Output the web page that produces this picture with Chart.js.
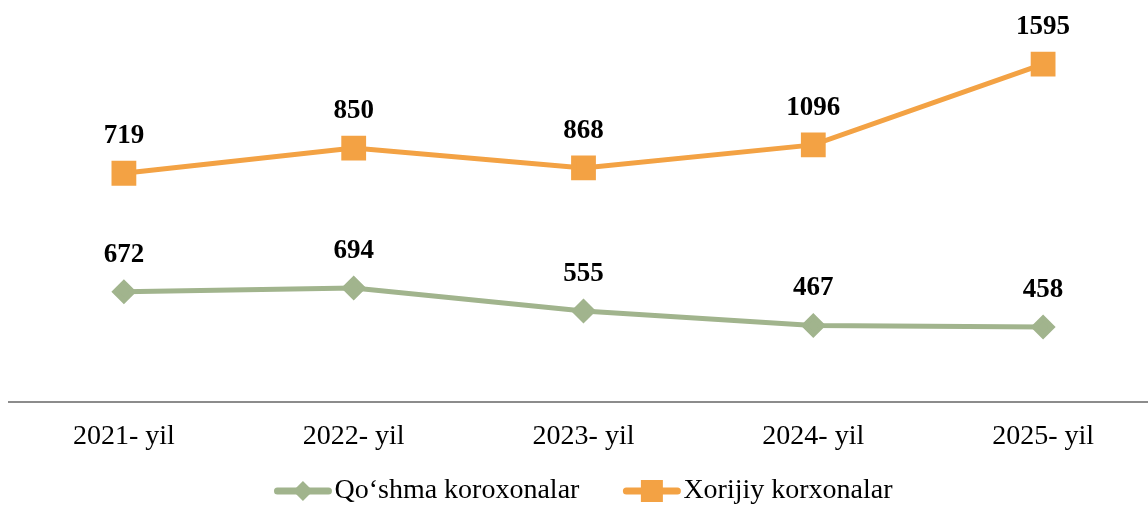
<!DOCTYPE html>
<html>
<head>
<meta charset="utf-8">
<script src="https://cdn.jsdelivr.net/npm/chart.js@4"></script>
<style>
  html, body { margin: 0; padding: 0; background: #fff; overflow: hidden; }
  #wrap { width: 1160px; height: 505px; }
</style>
</head>
<body>
<div id="wrap"><canvas id="chart" width="1160" height="505"></canvas></div>
<script>
const years = ['2021- yil', '2022- yil', '2023- yil', '2024- yil', '2025- yil'];
const jointValues = [672, 694, 555, 467, 458];
const foreignValues = [719, 850, 868, 1096, 1595];
const seriesNames = ['Qo\u2018shma koroxonalar', 'Xorijiy korxonalar'];

const greenColor = '#A1B48D';
const orangeColor = '#F3A244';
const fontFamily = '"Liberation Serif", "Times New Roman", serif';

// value labels above each point (raw value, not stacked total)
const valueLabels = {
    id: 'valueLabels',
    afterDatasetsDraw(chart) {
        const ctx = chart.ctx;
        ctx.save();
        ctx.font = 'bold 27px ' + fontFamily;
        ctx.fillStyle = '#000';
        ctx.textAlign = 'center';
        ctx.textBaseline = 'middle';
        chart.data.datasets.forEach((ds, i) => {
            const meta = chart.getDatasetMeta(i);
            meta.data.forEach((pt, j) => {
                ctx.fillText(String(ds.data[j]), pt.x, pt.y - 37);
            });
        });
        ctx.restore();
    }
};

// legend: line with marker, then series name
const lineLegend = {
    id: 'lineLegend',
    afterDraw(chart) {
        const ctx = chart.ctx;
        ctx.save();
        ctx.font = '28px ' + fontFamily;
        ctx.textBaseline = 'middle';
        const y = 491;
        const markW = 57;
        const gap = 3;
        const itemGap = 44;
        const items = chart.data.datasets.map(ds => ({
            ds: ds,
            w: markW + gap + ctx.measureText(ds.label).width
        }));
        const total = items.reduce((s, it) => s + it.w, 0) + itemGap * (items.length - 1);
        let x = (chart.chartArea.left + chart.chartArea.right - total) / 2;
        items.forEach(it => {
            const ds = it.ds;
            ctx.strokeStyle = ds.borderColor;
            ctx.lineWidth = 7;
            ctx.lineCap = 'round';
            ctx.beginPath();
            ctx.moveTo(x + 3, y);
            ctx.lineTo(x + markW - 3, y);
            ctx.stroke();
            ctx.fillStyle = ds.pointBackgroundColor;
            ctx.beginPath();
            const cx = x + markW / 2;
            if (ds.pointStyle === 'rectRot') {
                ctx.moveTo(cx, y - 10);
                ctx.lineTo(cx + 10, y);
                ctx.lineTo(cx, y + 10);
                ctx.lineTo(cx - 10, y);
                ctx.closePath();
            } else {
                ctx.rect(cx - 11, y - 11, 22, 22);
            }
            ctx.fill();
            ctx.fillStyle = '#000';
            ctx.textAlign = 'left';
            ctx.fillText(ds.label, x + markW + gap, y);
            x += it.w + itemGap;
        });
        ctx.restore();
    }
};

new Chart(document.getElementById('chart'), {
    type: 'line',
    data: {
        labels: years,
        datasets: [
            {
                label: seriesNames[0],
                data: jointValues,
                borderColor: greenColor,
                backgroundColor: greenColor,
                pointBackgroundColor: greenColor,
                pointBorderColor: greenColor,
                borderWidth: 5,
                pointStyle: 'rectRot',
                pointRadius: 9,
                tension: 0,
                fill: false
            },
            {
                label: seriesNames[1],
                data: foreignValues,
                borderColor: orangeColor,
                backgroundColor: orangeColor,
                pointBackgroundColor: orangeColor,
                pointBorderColor: orangeColor,
                borderWidth: 5,
                pointStyle: 'rect',
                pointRadius: 14,
                tension: 0,
                fill: false
            }
        ]
    },
    options: {
        responsive: false,
        animation: false,
        layout: { autoPadding: false, padding: { left: 9, right: 2, top: 7, bottom: 35 } },
        plugins: {
            legend: { display: false },
            tooltip: { enabled: false }
        },
        scales: {
            x: {
                offset: true,
                grid: { display: false, drawTicks: false },
                border: { display: true, color: '#8C8C8C', width: 2 },
                ticks: {
                    color: '#000',
                    padding: 17,
                    font: { family: fontFamily, size: 28 }
                }
            },
            y: {
                display: false,
                stacked: true,
                min: 0,
                max: 2400
            }
        }
    },
    plugins: [valueLabels, lineLegend]
});
</script>
</body>
</html>
